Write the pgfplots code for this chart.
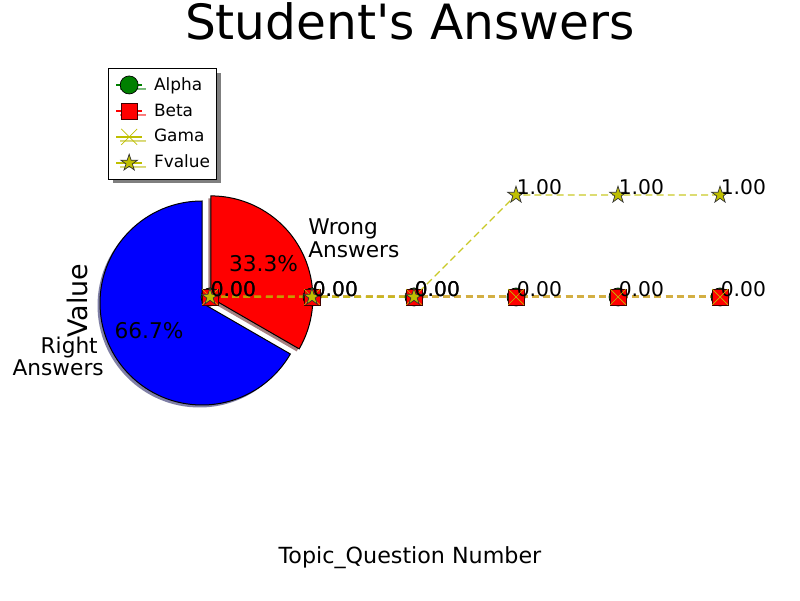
\documentclass[border=0pt]{standalone}
\usepackage{pgfplots}
\pgfplotsset{compat=1.18}
\usepackage{fontspec}
\setmainfont{DejaVu Sans}
\usetikzlibrary{shadows}

\definecolor{alphagreen}{RGB}{0,128,0}
\definecolor{mplyellow}{RGB}{191,191,0}
\definecolor{blueshadow}{RGB}{0,0,77}
\definecolor{redshadow}{RGB}{77,0,0}

\pgfdeclareplotmark{fstar}{%
  \pgfpathmoveto{\pgfpointpolar{90}{\pgfplotmarksize}}%
  \pgfpathlineto{\pgfpointpolar{126}{0.382\pgfplotmarksize}}%
  \pgfpathlineto{\pgfpointpolar{162}{\pgfplotmarksize}}%
  \pgfpathlineto{\pgfpointpolar{198}{0.382\pgfplotmarksize}}%
  \pgfpathlineto{\pgfpointpolar{234}{\pgfplotmarksize}}%
  \pgfpathlineto{\pgfpointpolar{270}{0.382\pgfplotmarksize}}%
  \pgfpathlineto{\pgfpointpolar{306}{\pgfplotmarksize}}%
  \pgfpathlineto{\pgfpointpolar{342}{0.382\pgfplotmarksize}}%
  \pgfpathlineto{\pgfpointpolar{18}{\pgfplotmarksize}}%
  \pgfpathlineto{\pgfpointpolar{54}{0.382\pgfplotmarksize}}%
  \pgfpathclose
  \pgfusepathqfillstroke
}

% pie data: right answers, wrong answers
\def\pieRight{2}
\def\pieWrong{1}
\pgfmathsetmacro\pieSplit{90+360*\pieRight/(\pieRight+\pieWrong)}
\pgfmathsetmacro\pieSplitNeg{\pieSplit-360}

\def\PX#1#2{({0.72pt*#1},{0.72pt*(600-#2)})}

\begin{document}
\begin{tikzpicture}
\useasboundingbox (0,0) rectangle (576pt,432pt);
\begin{axis}[
  at={(72pt,47.52pt)}, anchor=south west,
  width=446.4pt, height=336.96pt, scale only axis,
  xmin=-1.07843, xmax=5.0, ymin=-2.32353, ymax=2.26471,
  hide axis, clip=false,
  /pgf/number format/assume math mode=true,
  legend image code/.code={\draw[mark repeat=2,mark phase=2,#1] plot coordinates {(0cm,0cm) (0.33cm,0cm) (0.66cm,0cm)};},
  legend image post style={solid, draw opacity=1, line width=1pt},
  legend style={at={(0.0129,0.9957)}, anchor=north west, draw=black, fill=white,
    line width=0.72pt,
    font=\fontsize{12.2}{14.4}\selectfont,
    inner xsep=5pt, inner ysep=2.5pt,
    nodes={inner sep=0pt, text height=13pt, text depth=5.7pt},
    column sep=8pt, row sep=0pt,
    drop shadow={shadow xshift=2.9pt, shadow yshift=-2.9pt, fill=black, opacity=0.5}},
  legend cell align=left,
  nodes near coords={\pgfmathprintnumber[fixed,fixed zerofill,precision=2]{\pgfplotspointmeta}},
  nodes near coords style={anchor=base west, inner sep=0pt, xshift=0.3pt, text=black,
    font=\fontsize{14.6}{17}\selectfont},
]
% pie shadows
\fill[blueshadow, opacity=0.5, xshift=-1.8pt, yshift=-1.8pt]
  (axis cs:-0.0784,-0.0588) -- ++(90:73.44pt) arc[start angle=90, end angle=\pieSplit, radius=73.44pt] -- cycle;
\fill[redshadow, opacity=0.5, shift={(30:7.344pt)}, xshift=-1.8pt, yshift=-1.8pt]
  (axis cs:-0.0784,-0.0588) -- ++(\pieSplitNeg:73.44pt) arc[start angle=\pieSplitNeg, end angle=90, radius=73.44pt] -- cycle;
% pie wedges
\filldraw[fill=blue, draw=black, line width=0.72pt]
  (axis cs:-0.0784,-0.0588) -- ++(90:73.44pt) arc[start angle=90, end angle=\pieSplit, radius=73.44pt] -- cycle;
\filldraw[fill=red, draw=black, line width=0.72pt, shift={(30:7.344pt)}]
  (axis cs:-0.0784,-0.0588) -- ++(\pieSplitNeg:73.44pt) arc[start angle=\pieSplitNeg, end angle=90, radius=73.44pt] -- cycle;

\addplot[color=alphagreen, line width=2.16pt, dash pattern=on 5pt off 3pt, draw opacity=0.1,
  mark=*, mark size=6.48pt,
  mark options={solid, draw opacity=1, fill=alphagreen, draw=black, line width=0.5pt},
  nodes near coords={}]
  coordinates {(0,0) (1,0) (2,0) (3,0) (4,0) (5,0)};
\addlegendentry{Alpha}
\addplot[color=red, line width=2.16pt, dash pattern=on 5pt off 3pt, draw opacity=0.35,
  mark=square*, mark size=5.76pt,
  mark options={solid, draw opacity=1, fill=red, draw=black!75!red, line width=0.5pt}]
  coordinates {(0,0) (1,0) (2,0) (3,0) (4,0) (5,0)};
\addlegendentry{Beta}
\addplot[color=mplyellow, line width=2.16pt, dash pattern=on 5pt off 3pt, draw opacity=0.55,
  mark=x, mark size=8.1pt,
  mark options={solid, draw opacity=1, line width=0.5pt},
  nodes near coords={}]
  coordinates {(0,0) (1,0) (2,0) (3,0) (4,0) (5,0)};
\addlegendentry{Gama}
\addplot[color=mplyellow, line width=1.0pt, dash pattern=on 5pt off 3pt, draw opacity=0.85,
  mark=fstar, mark size=6.3pt,
  mark options={solid, draw opacity=1, fill=mplyellow, draw=black!80, line width=0.5pt}]
  coordinates {(0,0) (1,0) (2,0) (3,1) (4,1) (5,1)};
\addlegendentry{Fvalue}
\end{axis}

% title and axis labels
\node[anchor=base, inner sep=0pt, font=\fontsize{35}{42}\selectfont] at \PX{410}{39.5} {Student\textquotesingle s Answers};
\node[anchor=base, inner sep=0pt, font=\fontsize{16}{19}\selectfont] at \PX{410}{563} {Topic\_Question Number};
\node[anchor=base, rotate=90, inner sep=0pt, font=\fontsize{19.4}{23}\selectfont] at \PX{87}{300.5} {Value};

% pie labels
\node[anchor=base east, inner sep=0pt, font=\fontsize{15.6}{18}\selectfont] at \PX{98}{353} {Right};
\node[anchor=base east, inner sep=0pt, font=\fontsize{15.6}{18}\selectfont] at \PX{104}{375} {Answers};
\node[anchor=base west, inner sep=0pt, font=\fontsize{15.6}{18}\selectfont] at \PX{308}{235} {Wrong};
\node[anchor=base west, inner sep=0pt, font=\fontsize{15.6}{18}\selectfont] at \PX{308}{258} {Answers};
\node[anchor=base, inner sep=0pt, font=\fontsize{15.6}{18}\selectfont] at \PX{149}{338.3} {66.7\%};
\node[anchor=base, inner sep=0pt, font=\fontsize{15.6}{18}\selectfont] at \PX{263.5}{271.7} {33.3\%};
\end{tikzpicture}
\end{document}
